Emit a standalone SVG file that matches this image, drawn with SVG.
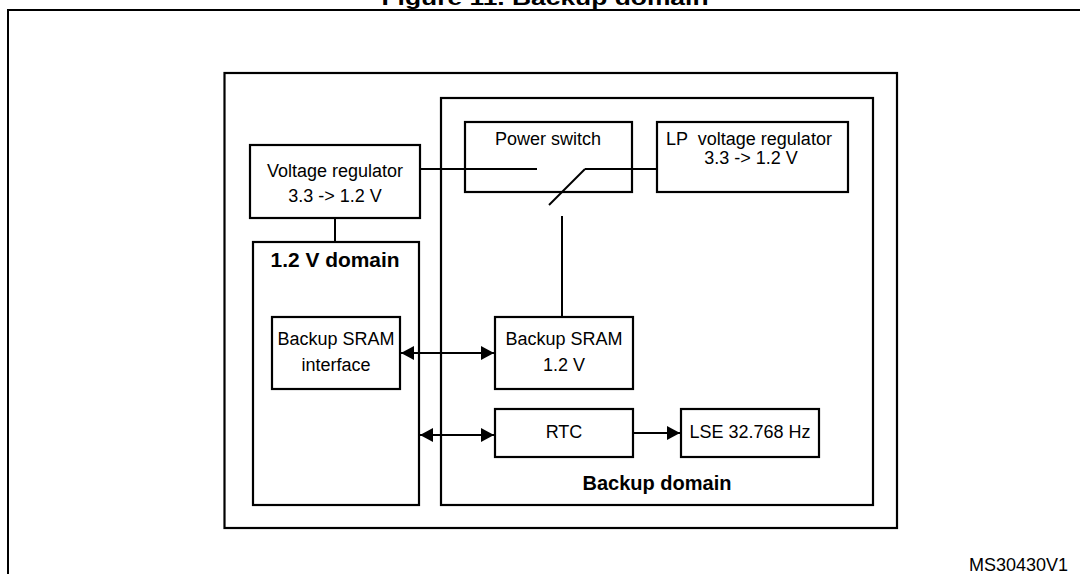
<svg xmlns="http://www.w3.org/2000/svg" width="1080" height="574" viewBox="0 0 1080 574">
<style>
.b{fill:#fff;stroke:#000;stroke-width:2.2}
.t{font-family:"Liberation Sans",Arial,sans-serif;font-size:18px;fill:#000;text-anchor:middle}
.bd{font-weight:bold;font-size:20px}
.l{stroke:#000;stroke-width:2;fill:none}
</style>
<defs>
<marker id="ah" markerUnits="userSpaceOnUse" markerWidth="14" markerHeight="16" refX="13" refY="7" orient="auto-start-reverse" viewBox="0 0 14 14">
<path d="M0,0 L13,7 L0,14 Z" fill="#000"/>
</marker>
</defs>
<rect width="1080" height="574" fill="#fff"/>
<text class="t bd" x="545" y="5" font-size="24" textLength="327" lengthAdjust="spacingAndGlyphs">Figure 11. Backup domain</text>
<path class="l" d="M8,574 V10 H1080" stroke-width="2.5"/>
<g id="main"><rect class="b" x="224.5" y="73" width="672.5" height="455"/></g>
<g id="backup-domain"><rect class="b" x="441" y="98" width="432" height="407"/>
<text class="t bd" x="657" y="490">Backup domain</text></g>
<g id="v12-domain"><rect class="b" x="253" y="242" width="166" height="263"/>
<text class="t bd" x="335" y="267" textLength="129" lengthAdjust="spacingAndGlyphs">1.2 V domain</text></g>
<g id="vreg"><rect class="b" x="250" y="145" width="170" height="73"/>
<text class="t" x="335" y="177">Voltage regulator</text>
<text class="t" x="335" y="202">3.3 -&gt; 1.2 V</text></g>
<g id="power-switch"><rect class="b" x="465" y="122" width="167" height="70"/>
<text class="t" x="548" y="145">Power switch</text></g>
<g id="lp-vreg"><rect class="b" x="657" y="122" width="191" height="70"/>
<text class="t" x="749" y="145" style="white-space:pre">LP  voltage regulator</text>
<text class="t" x="751" y="164">3.3 -&gt; 1.2 V</text></g>
<g id="sram-if"><rect class="b" x="272" y="317" width="128" height="72"/>
<text class="t" x="336" y="345">Backup SRAM</text>
<text class="t" x="336" y="371">interface</text></g>
<g id="sram"><rect class="b" x="495" y="317" width="138" height="72"/>
<text class="t" x="564" y="345">Backup SRAM</text>
<text class="t" x="564" y="371">1.2 V</text></g>
<g id="rtc"><rect class="b" x="495" y="409" width="138" height="48"/>
<text class="t" x="564" y="438">RTC</text></g>
<g id="lse"><rect class="b" x="681" y="409" width="138" height="48"/>
<text class="t" x="750" y="438">LSE 32.768 Hz</text></g>
<g id="connectors">
<path class="l" d="M420,169 H537"/>
<path class="l" d="M585,169 L549,205"/>
<path class="l" d="M585,169 H657"/>
<path class="l" d="M562,216 V317"/>
<path class="l" d="M335,218 V242"/>
<path class="l" d="M401,353 H494" marker-start="url(#ah)" marker-end="url(#ah)"/>
<path class="l" d="M420,435 H494" marker-start="url(#ah)" marker-end="url(#ah)"/>
<path class="l" d="M633,433 H680" marker-end="url(#ah)"/>
</g>
<text class="t" x="1068" y="571" font-size="16" style="text-anchor:end">MS30430V1</text>
</svg>
